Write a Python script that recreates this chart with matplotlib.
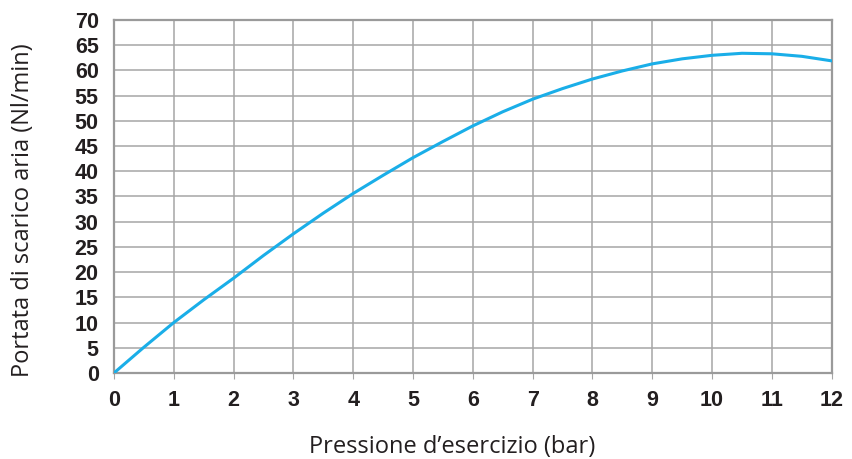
import matplotlib.pyplot as plt
import numpy as np

# valori
pressione = [0, 0.5, 1, 1.5, 2, 2.5, 3, 3.5, 4, 4.5, 5, 5.5, 6, 6.5, 7, 7.5,
             8, 8.5, 9, 9.5, 10, 10.5, 11, 11.5, 12]
portata = [0, 5.1, 10, 14.5, 18.8, 23.3, 27.6, 31.7, 35.6, 39.2, 42.7, 45.9,
           49.0, 51.8, 54.3, 56.4, 58.3, 59.9, 61.3, 62.3, 63.0, 63.4, 63.3,
           62.8, 61.9]

x_ticks = list(range(0, 13))
y_ticks = list(range(0, 71, 5))

fig = plt.figure(figsize=(8.53, 4.59), dpi=100)
ax = fig.add_axes([0.1336, 0.1874, 0.8414, 0.769])

ax.plot(pressione, portata, color='#1aaee8', linewidth=2.2, solid_capstyle='round', zorder=3)

ax.set_xlim(0, 12)
ax.set_ylim(0, 70)
ax.set_xticks(x_ticks)
ax.set_yticks(y_ticks)
ax.grid(True, color='#a6a6a6', linewidth=1.1)
ax.set_axisbelow(True)

for s in ax.spines.values():
    s.set_color('#9a9a9a')
    s.set_linewidth(1.6)

ax.tick_params(axis='x', length=4, color='#a6a6a6', pad=8)
ax.tick_params(axis='y', length=0, pad=11)
for lab in ax.get_xticklabels() + ax.get_yticklabels():
    lab.set_family('Liberation Sans')
    lab.set_fontweight('bold')
    lab.set_fontsize(15.5)
    lab.set_color('#231f20')

# etichette assi posizionate come nell'originale
fig.text(452 / 853, 1 - 447 / 459, 'Pressione d\u2019esercizio (bar)', family='Open Sans',
         fontsize=17, color='#231f20', ha='center', va='center')
fig.text(23 / 853, 1 - 210 / 459, 'Portata di scarico aria (Nl/min)', family='Open Sans',
         fontsize=17, color='#231f20', ha='center', va='center', rotation=90)

fig.savefig('out.png', dpi=100)
